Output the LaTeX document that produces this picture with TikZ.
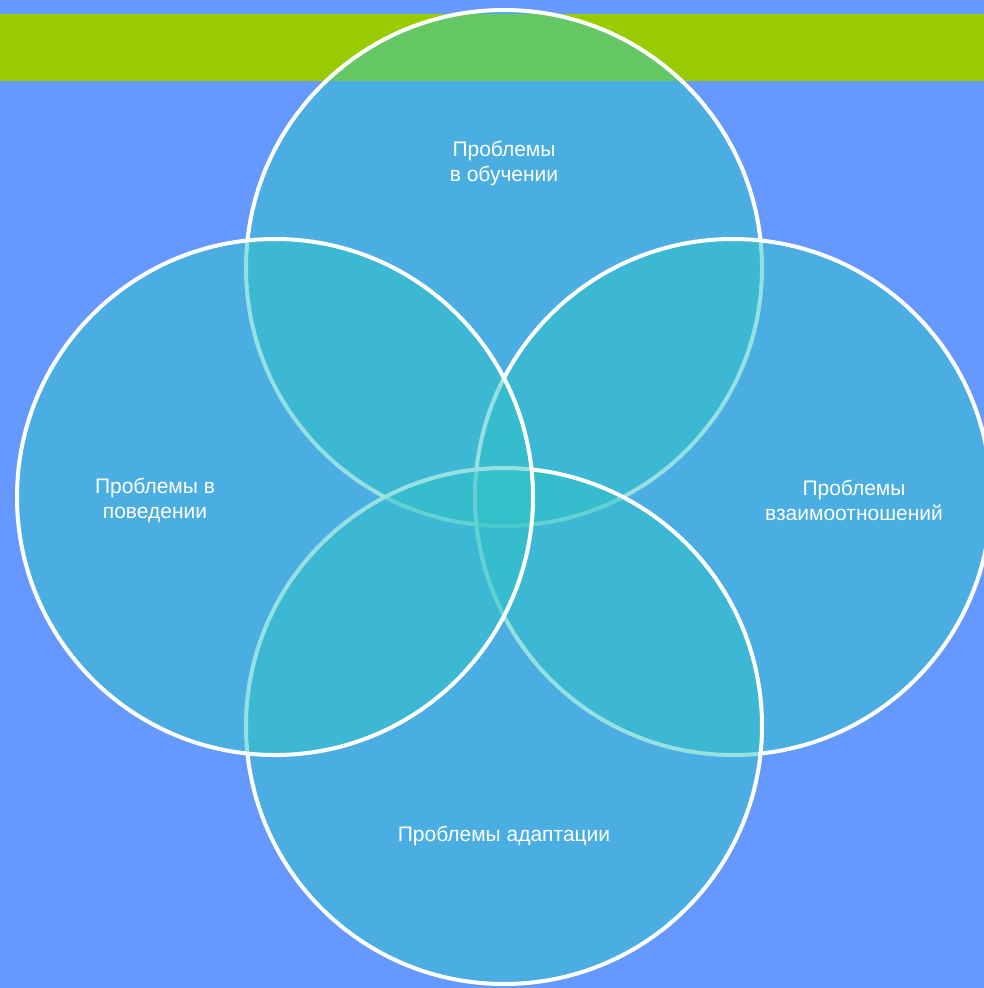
\documentclass[tikz,border=0pt]{standalone}
\usepackage{fontspec}
\setmainfont{Liberation Sans}
\usetikzlibrary{positioning}
\definecolor{bgblue}{HTML}{6699FF}
\definecolor{bandgreen}{HTML}{99CC00}
\definecolor{vennfill}{HTML}{30C3C7}
\tikzset{
  venn/.style = {circle,draw=white,line width=4pt,fill=vennfill,fill opacity=0.5,
                 draw opacity=1,minimum size=516pt,inner sep=0pt},
  lbl/.style  = {text=white,font=\fontsize{21}{25}\selectfont,align=center}
}

\begin{document}
\begin{tikzpicture}[x=1pt,y=-1pt]
  \useasboundingbox (0,0) rectangle (984,988);
  \fill[bgblue]    (0,0)  rectangle (984,988);
  \fill[bandgreen] (0,14) rectangle (984,81);
  % circles, drawn top, right, bottom, left
  \node[venn] (learn)  at (504,268) {};
  \node[venn] (relate) at (733,497) {};
  \node[venn] (adapt)  at (504,726) {};
  \node[venn] (behave) at (275,497) {};
  % labels
  \node[lbl] (learnlbl)  at (504,163) {Проблемы\\в обучении};
  \node[lbl] (relatelbl) at (854,500) {Проблемы\\взаимоотношений};
  \node[lbl] (adaptlbl)  at (504,836) {Проблемы адаптации};
  \node[lbl] (behavelbl) at (155,500) {Проблемы в\\поведении};
\end{tikzpicture}
\end{document}
